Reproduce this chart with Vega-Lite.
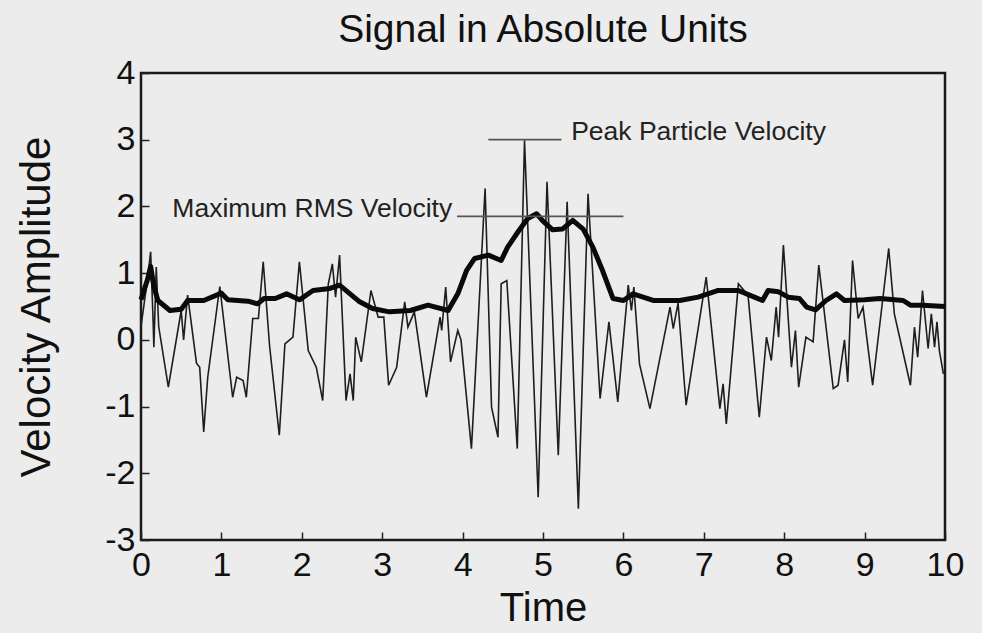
{
  "$schema": "https://vega.github.io/schema/vega-lite/v6.json",
  "width": 804,
  "height": 467,
  "autosize": {"type": "none"},
  "padding": {"left": 141, "top": 73, "right": 37, "bottom": 93},
  "background": "#ececec",
  "title": {
    "text": "Signal in Absolute Units",
    "fontSize": 39,
    "font": "Liberation Sans",
    "fontWeight": "normal",
    "color": "#111",
    "offset": 6
  },
  "config": {
    "view": {"stroke": "#1a1a1a", "strokeWidth": 2.5},
    "font": "Liberation Sans",
    "axis": {
      "grid": false,
      "domain": false,
      "tickColor": "#222",
      "tickWidth": 1.5,
      "tickSize": -8,
      "labelFlush": false,
      "labelFont": "Liberation Sans",
      "labelFontSize": 34,
      "labelColor": "#111",
      "labelExpr": "'' + datum.value",
      "titleFont": "Liberation Sans",
      "titleFontSize": 40,
      "titleFontWeight": "normal",
      "titleColor": "#111"
    }
  },
  "datasets": {
    "signal": [
      {"t": 0.0, "v": 0.2}, {"t": 0.08, "v": 0.9}, {"t": 0.12, "v": 1.32}, {"t": 0.15, "v": 0.3},
      {"t": 0.16, "v": -0.11}, {"t": 0.19, "v": 1.09}, {"t": 0.22, "v": 0.2}, {"t": 0.34, "v": -0.71},
      {"t": 0.5, "v": 0.44}, {"t": 0.53, "v": 0.0}, {"t": 0.58, "v": 0.67}, {"t": 0.69, "v": -0.35},
      {"t": 0.73, "v": -0.41}, {"t": 0.78, "v": -1.38}, {"t": 0.83, "v": -0.56}, {"t": 0.98, "v": 0.8},
      {"t": 1.14, "v": -0.86}, {"t": 1.19, "v": -0.56}, {"t": 1.27, "v": -0.61}, {"t": 1.31, "v": -0.86},
      {"t": 1.39, "v": 0.32}, {"t": 1.46, "v": 0.32}, {"t": 1.52, "v": 1.17}, {"t": 1.6, "v": -0.1},
      {"t": 1.72, "v": -1.43}, {"t": 1.79, "v": -0.06}, {"t": 1.89, "v": 0.04}, {"t": 1.97, "v": 1.17},
      {"t": 2.08, "v": -0.16}, {"t": 2.18, "v": -0.41}, {"t": 2.26, "v": -0.91}, {"t": 2.33, "v": 0.84},
      {"t": 2.38, "v": 1.14}, {"t": 2.42, "v": 0.64}, {"t": 2.47, "v": 1.27}, {"t": 2.55, "v": -0.91},
      {"t": 2.6, "v": -0.51}, {"t": 2.64, "v": -0.91}, {"t": 2.67, "v": 0.04}, {"t": 2.74, "v": -0.33},
      {"t": 2.86, "v": 0.74}, {"t": 2.95, "v": 0.34}, {"t": 3.02, "v": 0.34}, {"t": 3.08, "v": -0.68},
      {"t": 3.18, "v": -0.41}, {"t": 3.28, "v": 0.57}, {"t": 3.32, "v": 0.19}, {"t": 3.4, "v": 0.42},
      {"t": 3.55, "v": -0.86}, {"t": 3.72, "v": 0.34}, {"t": 3.74, "v": 0.14}, {"t": 3.79, "v": 0.79},
      {"t": 3.85, "v": -0.33}, {"t": 3.94, "v": 0.14}, {"t": 3.98, "v": 0.0}, {"t": 4.11, "v": -1.63},
      {"t": 4.19, "v": 0.19}, {"t": 4.28, "v": 2.27}, {"t": 4.36, "v": -1.01}, {"t": 4.44, "v": -1.46},
      {"t": 4.48, "v": 0.84}, {"t": 4.55, "v": 0.89}, {"t": 4.68, "v": -1.63}, {"t": 4.77, "v": 2.99},
      {"t": 4.94, "v": -2.36}, {"t": 5.05, "v": 2.37}, {"t": 5.19, "v": -1.73}, {"t": 5.3, "v": 2.07},
      {"t": 5.44, "v": -2.53}, {"t": 5.56, "v": 2.19}, {"t": 5.71, "v": -0.88}, {"t": 5.82, "v": 0.27},
      {"t": 5.93, "v": -0.93}, {"t": 6.06, "v": 0.82}, {"t": 6.1, "v": 0.44}, {"t": 6.13, "v": 0.79},
      {"t": 6.2, "v": -0.36}, {"t": 6.33, "v": -1.03}, {"t": 6.58, "v": 0.49}, {"t": 6.62, "v": 0.17},
      {"t": 6.68, "v": 0.55}, {"t": 6.78, "v": -0.98}, {"t": 7.03, "v": 0.94}, {"t": 7.2, "v": -1.03},
      {"t": 7.24, "v": -0.66}, {"t": 7.28, "v": -1.26}, {"t": 7.43, "v": 0.84}, {"t": 7.55, "v": 0.67},
      {"t": 7.69, "v": -1.16}, {"t": 7.78, "v": 0.04}, {"t": 7.84, "v": -0.31}, {"t": 7.9, "v": 0.49},
      {"t": 7.93, "v": 0.04}, {"t": 7.99, "v": 1.42}, {"t": 8.09, "v": -0.41}, {"t": 8.14, "v": 0.14},
      {"t": 8.18, "v": -0.71}, {"t": 8.27, "v": 0.04}, {"t": 8.36, "v": -0.03}, {"t": 8.43, "v": 1.12},
      {"t": 8.61, "v": -0.73}, {"t": 8.67, "v": -0.68}, {"t": 8.75, "v": 0.0}, {"t": 8.79, "v": -0.63},
      {"t": 8.85, "v": 1.19}, {"t": 8.92, "v": 0.32}, {"t": 8.98, "v": 0.49}, {"t": 9.1, "v": -0.68},
      {"t": 9.3, "v": 1.37}, {"t": 9.37, "v": 0.39}, {"t": 9.57, "v": -0.68}, {"t": 9.62, "v": 0.19},
      {"t": 9.66, "v": -0.26}, {"t": 9.72, "v": 0.74}, {"t": 9.79, "v": -0.13}, {"t": 9.83, "v": 0.39},
      {"t": 9.87, "v": -0.11}, {"t": 9.9, "v": 0.27}, {"t": 9.93, "v": -0.16}, {"t": 9.98, "v": -0.51}
    ],
    "rms": [
      {"t": 0.0, "v": 0.6}, {"t": 0.08, "v": 0.9}, {"t": 0.12, "v": 1.1}, {"t": 0.16, "v": 0.8},
      {"t": 0.21, "v": 0.59}, {"t": 0.3, "v": 0.5}, {"t": 0.36, "v": 0.44}, {"t": 0.5, "v": 0.46},
      {"t": 0.58, "v": 0.59}, {"t": 0.78, "v": 0.59}, {"t": 1.0, "v": 0.7}, {"t": 1.08, "v": 0.6},
      {"t": 1.33, "v": 0.58}, {"t": 1.45, "v": 0.54}, {"t": 1.53, "v": 0.62}, {"t": 1.67, "v": 0.62},
      {"t": 1.81, "v": 0.69}, {"t": 1.97, "v": 0.6}, {"t": 2.14, "v": 0.74}, {"t": 2.35, "v": 0.77},
      {"t": 2.47, "v": 0.82}, {"t": 2.6, "v": 0.69}, {"t": 2.72, "v": 0.57}, {"t": 2.88, "v": 0.47},
      {"t": 3.09, "v": 0.42}, {"t": 3.35, "v": 0.44}, {"t": 3.57, "v": 0.52}, {"t": 3.82, "v": 0.44},
      {"t": 3.94, "v": 0.69}, {"t": 4.05, "v": 1.04}, {"t": 4.15, "v": 1.22}, {"t": 4.32, "v": 1.27},
      {"t": 4.48, "v": 1.19}, {"t": 4.56, "v": 1.39}, {"t": 4.69, "v": 1.62}, {"t": 4.81, "v": 1.82},
      {"t": 4.92, "v": 1.89}, {"t": 5.0, "v": 1.78}, {"t": 5.12, "v": 1.65}, {"t": 5.24, "v": 1.66},
      {"t": 5.37, "v": 1.79}, {"t": 5.5, "v": 1.66}, {"t": 5.62, "v": 1.39}, {"t": 5.73, "v": 1.07},
      {"t": 5.87, "v": 0.62}, {"t": 6.0, "v": 0.59}, {"t": 6.12, "v": 0.69}, {"t": 6.37, "v": 0.59},
      {"t": 6.7, "v": 0.59}, {"t": 6.93, "v": 0.64}, {"t": 7.18, "v": 0.74}, {"t": 7.43, "v": 0.74},
      {"t": 7.63, "v": 0.64}, {"t": 7.73, "v": 0.59}, {"t": 7.8, "v": 0.74}, {"t": 7.93, "v": 0.72},
      {"t": 8.05, "v": 0.64}, {"t": 8.19, "v": 0.62}, {"t": 8.28, "v": 0.49}, {"t": 8.39, "v": 0.45},
      {"t": 8.52, "v": 0.59}, {"t": 8.65, "v": 0.69}, {"t": 8.75, "v": 0.59}, {"t": 9.0, "v": 0.6},
      {"t": 9.19, "v": 0.62}, {"t": 9.48, "v": 0.59}, {"t": 9.57, "v": 0.52}, {"t": 9.72, "v": 0.52},
      {"t": 10.0, "v": 0.5}
    ],
    "marks": [
      {"t1": 4.32, "t2": 5.23, "v": 3.0, "label": "Peak Particle Velocity", "tx": 5.35, "ty": 3.11},
      {"t1": 3.93, "t2": 6.0, "v": 1.85, "label": "Maximum RMS Velocity", "tx": 0.39, "ty": 1.96}
    ]
  },
  "layer": [
    {
      "mark": {"type": "rule", "color": "#a8a8a8", "strokeDash": [9, 8], "strokeWidth": 1.2},
      "encoding": {
        "y": {
          "datum": 0,
          "type": "quantitative",
          "scale": {"domain": [-3, 4], "nice": false},
          "axis": {"values": [-3, -2, -1, 0, 1, 2, 3, 4], "title": "Velocity Amplitude", "labelPadding": 14, "titlePadding": 46, "titleFontSize": 42}
        }
      }
    },
    {
      "data": {"name": "signal"},
      "mark": {"type": "line", "color": "#1e1e1e", "strokeWidth": 1.6},
      "encoding": {
        "x": {
          "field": "t",
          "type": "quantitative",
          "scale": {"domain": [0, 10], "nice": false},
          "axis": {"values": [0, 1, 2, 3, 4, 5, 6, 7, 8, 9, 10], "title": "Time", "labelPadding": 16, "titlePadding": 6}
        },
        "y": {"field": "v", "type": "quantitative"}
      }
    },
    {
      "data": {"name": "rms"},
      "mark": {"type": "line", "color": "#0a0a0a", "strokeWidth": 5, "strokeJoin": "round"},
      "encoding": {
        "x": {"field": "t", "type": "quantitative"},
        "y": {"field": "v", "type": "quantitative"}
      }
    },
    {
      "data": {"name": "marks"},
      "mark": {"type": "rule", "color": "#555", "strokeWidth": 1.8},
      "encoding": {
        "x": {"field": "t1", "type": "quantitative"},
        "x2": {"field": "t2"},
        "y": {"field": "v", "type": "quantitative"}
      }
    },
    {
      "data": {"name": "marks"},
      "mark": {"type": "text", "align": "left", "baseline": "middle", "fontSize": 26.5, "color": "#222", "font": "Liberation Sans"},
      "encoding": {
        "x": {"field": "tx", "type": "quantitative"},
        "y": {"field": "ty", "type": "quantitative"},
        "text": {"field": "label"}
      }
    }
  ]
}
